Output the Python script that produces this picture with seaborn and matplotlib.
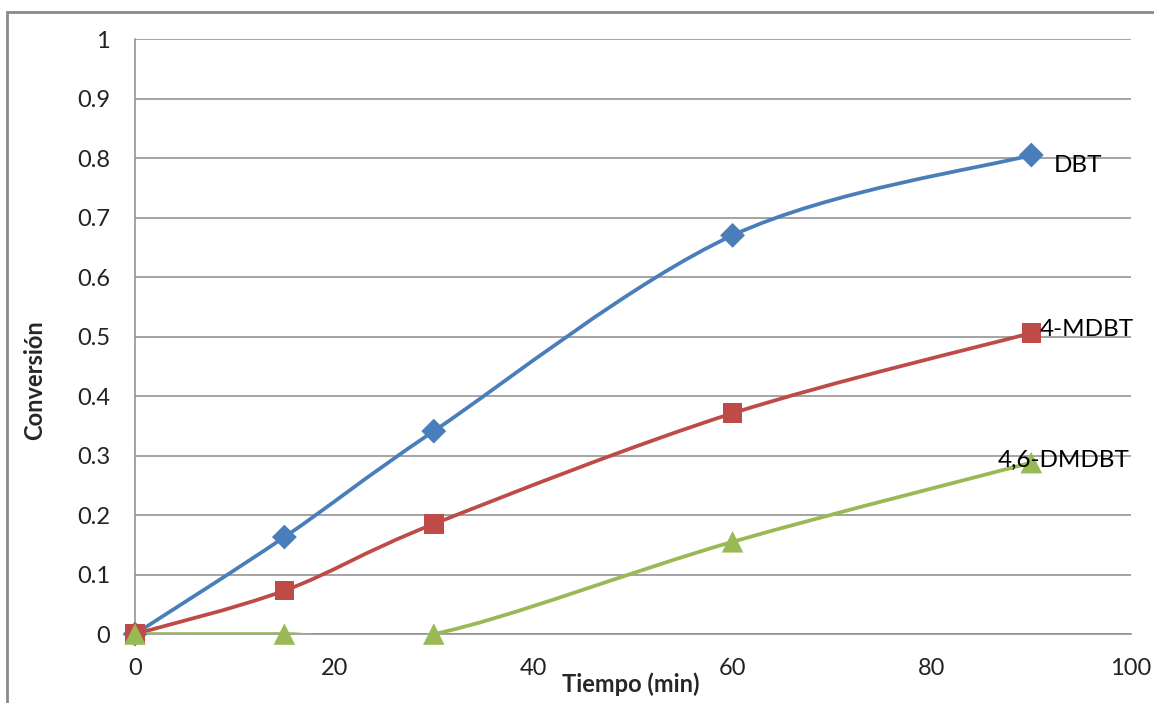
import numpy as np
import pandas as pd
import matplotlib
matplotlib.use("Agg")
import matplotlib.pyplot as plt
from matplotlib.path import Path
from matplotlib.patches import PathPatch, Rectangle
import seaborn as sns

# Reaction time (min) and conversion for each sulfur compound
tiempo = [0, 15, 30, 60, 90]
dbt = [0.0, 0.163, 0.341, 0.670, 0.805]
mdbt = [0.0, 0.073, 0.185, 0.371, 0.506]
dmdbt = [0.0, 0.0, 0.0, 0.155, 0.288]

series_names = ["DBT", "4-MDBT", "4,6-DMDBT"]
series_values = [dbt, mdbt, dmdbt]
colors = ["#4A7EBB", "#BE4B48", "#98B954"]
markers = ["D", "s", "^"]
marker_sizes = [160, 200, 240]

x_ticks = [0, 20, 40, 60, 80, 100]
y_ticks = [0, 0.1, 0.2, 0.3, 0.4, 0.5, 0.6, 0.7, 0.8, 0.9, 1]

sns.set_theme(style="white")
plt.rcParams["font.family"] = ["Lato", "DejaVu Sans"]

df = pd.concat(
    [pd.DataFrame({"Tiempo": tiempo, "Conversion": v, "Compuesto": n})
     for n, v in zip(series_names, series_values)],
    ignore_index=True,
)

fig = plt.figure(figsize=(11.54, 7.03), dpi=100)
ax = fig.add_axes([0.117, 0.0981, 0.863, 0.8464])


def smooth_path(xs, ys):
    """Cubic Bezier path through the points, spreadsheet-style smoothing."""
    pts = np.column_stack([xs, ys]).astype(float)
    n = len(pts)
    verts = [pts[0]]
    codes = [Path.MOVETO]
    for i in range(n - 1):
        p0 = pts[max(i - 1, 0)]
        p1 = pts[i]
        p2 = pts[i + 1]
        p3 = pts[min(i + 2, n - 1)]
        c1 = p1 + (p2 - p0) / 6.0
        c2 = p2 - (p3 - p1) / 6.0
        verts += [c1, c2, p2]
        codes += [Path.CURVE4] * 3
    return Path(verts, codes)


for name, vals, col in zip(series_names, series_values, colors):
    patch = PathPatch(smooth_path(tiempo, vals), facecolor="none",
                      edgecolor=col, lw=2.7, zorder=3, capstyle="round",
                      joinstyle="round")
    ax.add_patch(patch)

sns.scatterplot(data=df, x="Tiempo", y="Conversion", hue="Compuesto",
                style="Compuesto", markers=dict(zip(series_names, markers)),
                palette=dict(zip(series_names, colors)),
                size="Compuesto", sizes=dict(zip(series_names, marker_sizes)),
                edgecolor="none", legend=False, ax=ax, zorder=4, clip_on=False)

# Series names beside the last point
ax.text(tiempo[-1] + 2.3, dbt[-1] - 0.017, "DBT", fontsize=17.5, va="center",
        ha="left", color="black", zorder=5)
ax.text(tiempo[-1] + 0.8, mdbt[-1] + 0.006, "4-MDBT", fontsize=17.5,
        va="center", ha="left", color="black", zorder=5)
ax.text(tiempo[-1] + 3.2, dmdbt[-1] + 0.004, "4,6-DMDBT", fontsize=17.5,
        va="center", ha="center", color="black", zorder=5)

ax.set_xlim(0, 100)
ax.set_ylim(0, 1)
ax.set_xticks(x_ticks)
ax.set_xticklabels([str(t) for t in x_ticks])
ax.set_yticks(y_ticks)
ax.set_yticklabels([f"{t:g}" for t in y_ticks])
ax.tick_params(axis="both", length=0, labelsize=17, colors="#222222")
ax.tick_params(axis="x", pad=17)
ax.tick_params(axis="y", pad=18)

ax.yaxis.grid(True, color="#8C8C8C", lw=1.1)
ax.xaxis.grid(False)
ax.set_axisbelow(True)
for side in ["top", "right"]:
    ax.spines[side].set_visible(False)
ax.spines["left"].set_color("#8C8C8C")
ax.spines["left"].set_linewidth(1.1)
ax.spines["bottom"].set_color("#8C8C8C")
ax.spines["bottom"].set_linewidth(1.1)

ax.set_xlabel("Tiempo (min)", fontsize=17, fontweight="bold")
ax.set_ylabel("Conversión", fontsize=17, fontweight="bold")
ax.xaxis.set_label_coords(0.498, -0.064)
ax.yaxis.set_label_coords(-0.089, 0.427)

# Chart-area frame
fig.patches.append(Rectangle((7 / 1154, -0.05), 1.1, 1.05 - 12 / 703,
                             transform=fig.transFigure, fill=False,
                             edgecolor="#8A8A8A", lw=2.0, zorder=0))

fig.savefig("out.png", dpi=100)
